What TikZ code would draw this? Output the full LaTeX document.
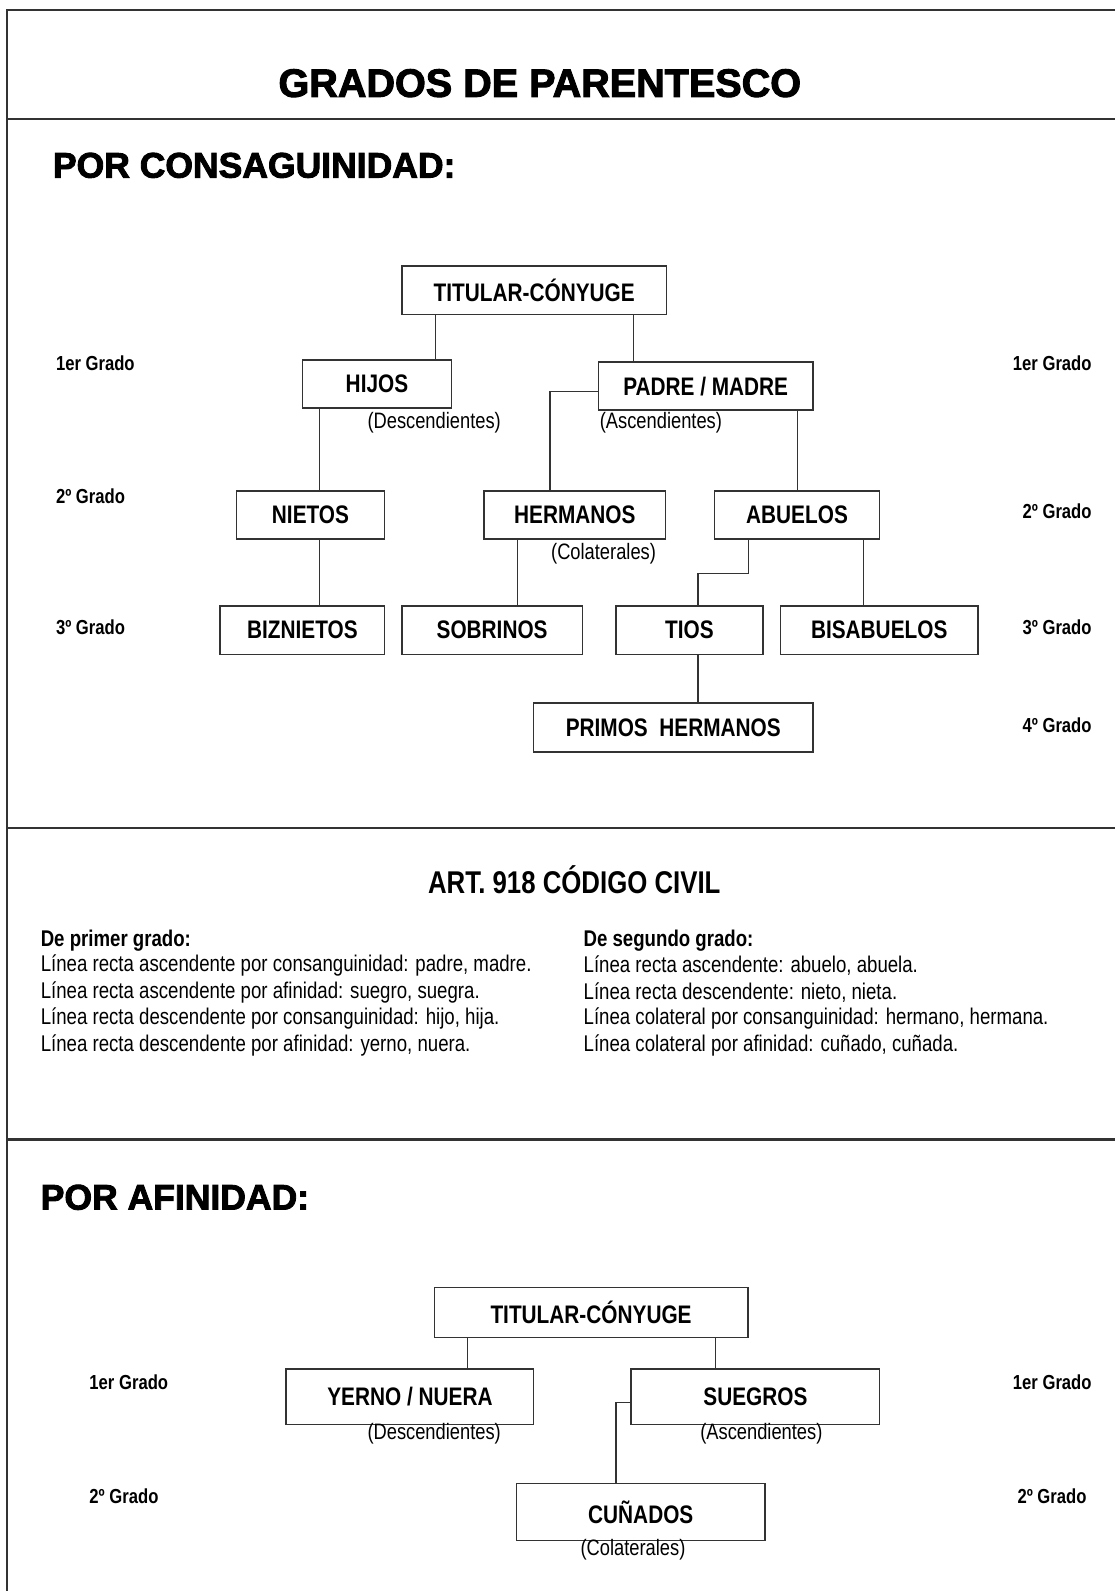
\documentclass[tikz,border=0pt]{standalone}
\usepackage{fontspec}
\setmainfont{Liberation Sans}
\newfontfamily\nar[FakeStretch=0.82]{Liberation Sans}
\newfontfamily\blk[FakeBold=2.5]{Liberation Sans}
\begin{document}
\begin{tikzpicture}[x=1pt,y=-1pt,
  frame/.style={draw=black!80, line width=2pt},
  box/.style={draw=black!80, line width=1.5pt, fill=white, inner sep=0pt,
    font=\nar\bfseries\fontsize{25}{30}\selectfont},
  conn/.style={draw=black!80, line width=1.3pt},
  grado/.style={font=\nar\bfseries\fontsize{20}{24}\selectfont, inner sep=0pt},
  paren/.style={font=\nar\fontsize{22}{26}\selectfont, inner sep=0pt, anchor=west},
  body/.style={font=\nar\fontsize{22.4}{26}\selectfont, inner sep=0pt, anchor=west},
  bodyb/.style={font=\nar\bfseries\fontsize{22.4}{26}\selectfont, inner sep=0pt, anchor=west},
  heading/.style={font=\blk\bfseries\fontsize{35}{42}\selectfont, inner sep=0pt},
  arttitle/.style={font=\nar\bfseries\fontsize{31}{36}\selectfont, inner sep=0pt}
]
\useasboundingbox (0,0) rectangle (1099,1568);

% frame
\draw[frame] (1099,10) -- (7,10) -- (7,1568);
\draw[frame] (7,117) -- (1099,117);
\draw[frame] (7,816) -- (1099,816);
\draw[frame] (7,1123) -- (1099,1123);

% headings
\node[heading, font=\blk\bfseries\fontsize{39}{46}\selectfont] (title) at (532,82) {GRADOS DE PARENTESCO};
\node[heading, anchor=west] (consang) at (52,163) {POR CONSAGUINIDAD:};
\node[arttitle] (art) at (566,867) {ART. 918 CÓDIGO CIVIL};
\node[heading, anchor=west] (afin) at (40,1180) {POR AFINIDAD:};

% section 1 boxes
\node[box, minimum width=261pt, minimum height=48pt] (t1) at (526.5,286) {TITULAR-CÓNYUGE};
\node[box, minimum width=147pt, minimum height=47pt] (hijos) at (371.5,378.5) {HIJOS};
\node[box, minimum width=211pt, minimum height=47pt] (padre) at (695.5,380.5) {PADRE / MADRE};
\node[box, minimum width=146pt, minimum height=47pt] (nietos) at (306,507.5) {NIETOS};
\node[box, minimum width=179pt, minimum height=47pt] (hermanos) at (566.5,507.5) {HERMANOS};
\node[box, minimum width=163pt, minimum height=47pt] (abuelos) at (785.5,507.5) {ABUELOS};
\node[box, minimum width=162pt, minimum height=48pt] (biznietos) at (298,621) {BIZNIETOS};
\node[box, minimum width=178pt, minimum height=48pt] (sobrinos) at (485,621) {SOBRINOS};
\node[box, minimum width=145pt, minimum height=48pt] (tios) at (679.5,621) {TIOS};
\node[box, minimum width=195pt, minimum height=48pt] (bisabuelos) at (866.5,621) {BISABUELOS};
\node[box, minimum width=275pt, minimum height=48pt] (primos) at (663.5,717) {PRIMOS\ \ HERMANOS};

% section 1 connector coordinates
\coordinate (x429) at (429,0);
\coordinate (x624) at (624,0);
\coordinate (x315) at (315,0);
\coordinate (cPH) at (542,386);
\coordinate (x786) at (786,0);
\coordinate (x510) at (510,0);
\coordinate (cAT1) at (738,565);
\coordinate (cAT2) at (688,565);
\coordinate (x851) at (851,0);

\draw[conn] (t1.south -| x429) -- (hijos.north -| x429);
\draw[conn] (t1.south -| x624) -- (padre.north -| x624);
\draw[conn] (hijos.south -| x315) -- (nietos.north -| x315);
\draw[conn] (cPH -| padre.west) -- (cPH) -- (hermanos.north -| cPH);
\draw[conn] (padre.south -| x786) -- (abuelos.north -| x786);
\draw[conn] (nietos.south -| x315) -- (biznietos.north -| x315);
\draw[conn] (hermanos.south -| x510) -- (sobrinos.north -| x510);
\draw[conn] (abuelos.south -| cAT1) -- (cAT1) -- (cAT2) -- (tios.north -| cAT2);
\draw[conn] (abuelos.south -| x851) -- (bisabuelos.north -| x851);
\draw[conn] (tios.south -| cAT2) -- (primos.north -| cAT2);

% section 1 labels
\node[paren] (desc1) at (362,417) {(Descendientes)};
\node[paren] (asc1) at (591,417) {(Ascendientes)};
\node[paren] (col1) at (543,546) {(Colaterales)};

\node[grado, anchor=west] (l1) at (55,358) {1er Grado};
\node[grado, anchor=west] (l2) at (55,489) {2º Grado};
\node[grado, anchor=west] (l3) at (55,618) {3º Grado};
\node[grado, anchor=east] (r1) at (1076,358) {1er Grado};
\node[grado, anchor=east] (r2) at (1076,504) {2º Grado};
\node[grado, anchor=east] (r3) at (1076,618) {3º Grado};
\node[grado, anchor=east] (r4) at (1076,715) {4º Grado};

% section 2 text
\node[bodyb] (p0) at (40,927) {De primer grado:};
\node[body] (p1) at (40,952) {Línea recta ascendente por consanguinidad: padre, madre.};
\node[body] (p2) at (40,978) {Línea recta ascendente por afinidad: suegro, suegra.};
\node[body] (p3) at (40,1004) {Línea recta descendente por consanguinidad: hijo, hija.};
\node[body] (p4) at (40,1030) {Línea recta descendente por afinidad: yerno, nuera.};
\node[bodyb] (s0) at (575,927) {De segundo grado:};
\node[body] (s1) at (575,952) {Línea recta ascendente: abuelo, abuela.};
\node[body] (s2) at (575,978) {Línea recta descendente: nieto, nieta.};
\node[body] (s3) at (575,1004) {Línea colateral por consanguinidad: hermano, hermana.};
\node[body] (s4) at (575,1030) {Línea colateral por afinidad: cuñado, cuñada.};

% section 3 boxes
\node[box, minimum width=309pt, minimum height=49pt] (t2) at (582.5,1293.5) {TITULAR-CÓNYUGE};
\node[box, minimum width=244pt, minimum height=55pt] (yerno) at (404,1376.5) {YERNO / NUERA};
\node[box, minimum width=245pt, minimum height=55pt] (suegros) at (744.5,1376.5) {SUEGROS};
\node[box, minimum width=245pt, minimum height=56pt] (cunados) at (631.5,1490) {CUÑADOS};

\coordinate (x461) at (461,0);
\coordinate (x705) at (705,0);
\coordinate (cSC) at (607,1382);
\draw[conn] (t2.south -| x461) -- (yerno.north -| x461);
\draw[conn] (t2.south -| x705) -- (suegros.north -| x705);
\draw[conn] (cSC -| suegros.west) -- (cSC) -- (cunados.north -| cSC);

\node[paren] (desc2) at (362,1413) {(Descendientes)};
\node[paren] (asc2) at (690,1413) {(Ascendientes)};
\node[paren] (col2) at (572,1527) {(Colaterales)};

\node[grado, anchor=west] (al1) at (88,1362) {1er Grado};
\node[grado, anchor=west] (al2) at (88,1475) {2º Grado};
\node[grado, anchor=east] (ar1) at (1076,1362) {1er Grado};
\node[grado, anchor=east] (ar2) at (1071,1475) {2º Grado};
\end{tikzpicture}
\end{document}
